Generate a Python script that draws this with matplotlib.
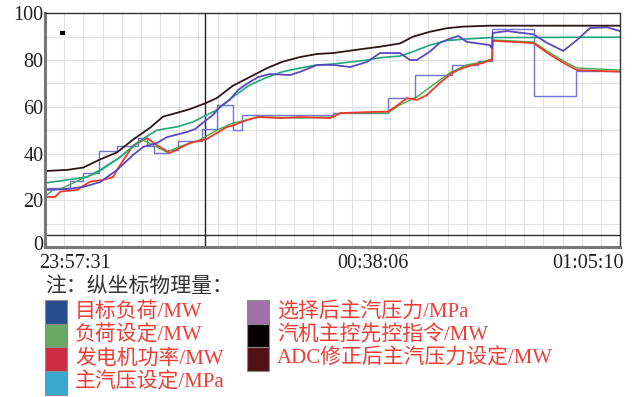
import matplotlib
matplotlib.use('Agg')
import matplotlib.pyplot as plt
import matplotlib.transforms as mtransforms
from matplotlib.patches import Rectangle

# 时间轴: 从曲线窗口左端起算的分钟数
tick_pos = [3.9, 42.8, 70.8]
tick_labels = ['23:57:31', '00:38:06', '01:05:10']

# 汽机主控先控指令
black_t = [0, 2.9, 5.0, 7.2, 9.4, 11.5, 13.7, 15.4, 17.2, 18.9, 20.9, 22.4, 24.5, 26.7,
           29.0, 31.0, 33.3, 35.5, 37.6, 42.0, 43.7, 46.3, 48.0, 50.2, 52.4, 54.5, 58.0, 75.0]
black_v = [32.5, 33, 34, 37.5, 40.5, 46, 51, 55.8, 57.4, 59, 61.5, 63.7, 69, 72.7,
           76.6, 79.3, 81.3, 82.6, 83, 85, 85.7, 87.1, 90, 92.1, 93.6, 94.3, 94.7, 94.7]

# 主汽压设定 (平滑曲线)
teal_t = [0, 2.9, 5.5, 7.2, 9.8, 12.4, 14.6, 17.2, 19.3, 21.1, 22.4, 24.5, 26.7, 29.0,
          31.0, 33.3, 35.5, 37.6, 42.0, 43.7, 46.3, 48.0, 50.2, 52.4, 54.5, 58.0, 75.0]
teal_v = [27.4, 28.7, 30, 33, 38.5, 45.5, 50, 51.4, 53.5, 56.5, 58.6, 64.2, 69.3, 72.7,
          75, 76.6, 77.9, 78.3, 80, 81, 81.7, 83.6, 86.4, 88.3, 88.9, 89.6, 89.8]

# 选择后主汽压力
purple_t = [0, 2.9, 5.0, 7.2, 9.4, 11.5, 12.8, 14.6, 15.9, 18.5, 19.6, 20.9, 21.9, 22.8,
            24.1, 25.2, 26.5, 27.8, 29.3, 32.0, 33.3, 35.5, 37.6, 39.8, 42.0, 43.7, 46.3,
            47.6, 48.5, 50.2, 51.5, 52.4, 53.9, 55.0, 56.7, 58.0, 58.3, 58.4, 60.3, 63.7,
            65.5, 67.6, 69.4, 71.1, 73.3, 75.0]
purple_v = [24.4, 24.8, 25.7, 27.8, 33, 39.4, 42.8, 44.5, 47, 49.2, 50.5, 54, 56.5, 59.9,
            63, 67.2, 70.2, 72.7, 74, 73.6, 75, 77.9, 77.9, 77, 79.2, 83, 83,
            80, 80, 83.6, 87.4, 88.6, 90.3, 87.8, 87, 86.4, 85, 91.6, 92.4, 91,
            87.3, 83.9, 88.6, 93.7, 94, 92.4]

# 目标负荷 (阶梯)
step_t = [0, 3.3, 5.0, 7.0, 9.4, 12.1, 13.3, 14.2, 16.0, 17.3, 20.5, 22.4, 24.5, 25.7,
          37.6, 44.7, 48.3, 53.1, 56.5, 58.3, 63.8, 69.3, 75.0]
step_v = [25.3, 28.2, 31.7, 41, 43.3, 46.5, 43.3, 40.2, 41.3, 45.5, 50.4, 60.8, 50, 56.3,
          57.3, 63.7, 73.6, 77.9, 79.6, 93.2, 64.6, 75.2, 75.2]

# 负荷设定
green_t = [0, 1.0, 2.3, 5.0, 6.8, 9.4, 11.5, 12.8, 14.6, 15.9, 17.6, 20.2, 22.4, 24.5,
           26.3, 28.0, 33.3, 37.6, 38.5, 44.7, 46.3, 48.5, 50.6, 52.8, 55.0, 57.1, 58.3,
           58.4, 63.7, 65.9, 68.1, 69.4, 75.0]
green_v = [21.5, 24.4, 25.2, 29.5, 31.7, 37.5, 43, 45.8, 42.8, 40.6, 43, 45.8, 50, 53,
           54.3, 55.6, 55.2, 55.6, 57.3, 57.3, 60.8, 64.2, 69.3, 74.5, 77.9, 79.2, 80.4,
           88.6, 87.7, 83, 78.7, 76.6, 75.7]

# 发电机功率
red_t = [0, 1.3, 2.0, 4.2, 4.8, 5.9, 7.6, 8.9, 9.4, 11.5, 13.3, 14.6, 16.3, 17.6, 18.9,
         21.1, 22.4, 23.7, 24.5, 26.3, 27.7, 30.7, 33.3, 37.2, 38.5, 43.7, 44.7, 45.7,
         47.2, 48.5, 49.8, 51.5, 53.1, 54.5, 55.8, 57.1, 58.0, 58.3, 58.4, 63.7, 65.9,
         68.1, 69.4, 75.0]
red_v = [21.4, 21.4, 23.7, 24.4, 25.8, 28, 28.7, 30, 33, 43.5, 46.6, 43.6, 40.2, 42.4, 44.5,
         46.2, 48.8, 51.3, 52, 54.3, 55.6, 55.2, 55.6, 55.2, 57.3, 57.9, 57.9, 60,
         63.7, 62.9, 65, 70.2, 74.5, 76.6, 77.9, 78.7, 80, 80, 88.2, 87.3, 82.2,
         77.9, 75.7, 75]

cursor_t = 20.9
base_level = 5

legend_names = ['目标负荷/MW', '负荷设定/MW', '发电机功率/MW', '主汽压设定/MPa',
                '选择后主汽压力/MPa', '汽机主控先控指令/MW', 'ADC修正后主汽压力设定/MW']
legend_colors = ['#264e8e', '#68a964', '#cc2b40', '#3aa9cf',
                 '#a070a6', '#060203', '#511414']

serif = ['Liberation Serif', 'Noto Sans CJK SC']

fig = plt.figure(figsize=(6.37, 3.97), dpi=100)
ax = fig.add_axes([45 / 637, 1 - 247 / 397, 575 / 637, 233.7 / 397])

ax.set_xlim(0, 75)
ax.set_ylim(0, 100)

# 网格
for g in [2.5 * i for i in range(1, 30)]:
    ax.axvline(g, color='#e2e2e2', lw=0.8, zorder=0)
for g in range(10, 100, 10):
    ax.axhline(g, color='#e2e2e2', lw=0.8, zorder=0)
ax.axhline(base_level, color='#333333', lw=1.0, zorder=1)
ax.axvline(cursor_t, color='#222222', lw=1.0, zorder=1)

ax.plot(step_t, step_v, drawstyle='steps-post', color='#7373d6', lw=1.0)
ax.plot(green_t, green_v, color='#3cae48', lw=1.0)
ax.plot(red_t, red_v, color='#f0392a', lw=1.3)
ax.plot(teal_t, teal_v, color='#1fa77c', lw=1.2)
ax.plot(purple_t, purple_v, color='#5948bf', lw=1.3)
ax.plot(black_t, black_v, color='#2b1616', lw=1.3)
ax.plot([1.9, 2.6], [91.6, 91.6], color='black', lw=3, solid_capstyle='butt')

for side in ['top', 'right']:
    ax.spines[side].set_color('#333333')
    ax.spines[side].set_linewidth(1.0)
for side in ['left', 'bottom']:
    ax.spines[side].set_color('#777777')
    ax.spines[side].set_linewidth(2.2)

ax.set_xticks(tick_pos)
ax.set_xticklabels(tick_labels)
ax.set_yticks(range(0, 101, 20))
ax.tick_params(length=0)
for lab in ax.get_xticklabels() + ax.get_yticklabels():
    lab.set_family(serif)
    lab.set_fontsize(14.5)
    lab.set_color('#222222')
ax.tick_params(axis='x', pad=5)
ax.tick_params(axis='y', pad=1)

# 纵轴 "0" 稍微上移, 避免压住时间标签
zero_lab = ax.get_yticklabels()[0]
zero_lab.set_transform(zero_lab.get_transform() +
                       mtransforms.ScaledTranslation(0, 3 / 72, fig.dpi_scale_trans))

# 图例说明
fig.text(45 / 637, 1 - 287 / 397, '注：纵坐标物理量：', family=serif, fontsize=15,
         color='#333333', va='center', ha='left')

rows = [312, 335.5, 359, 383]
for i, (name, col) in enumerate(zip(legend_names, legend_colors)):
    if i < 4:
        x0, yc, xt = 45, rows[i], 75
    else:
        x0, yc, xt = 247, rows[i - 4], 277
    fig.patches.append(Rectangle((x0 / 637, 1 - (yc + 12) / 397), 22 / 637, 24 / 397,
                                 transform=fig.transFigure, facecolor=col,
                                 edgecolor='#8a8a8a', lw=0.8))
    fig.text(xt / 637, 1 - yc / 397, name, family=serif, fontsize=15,
             color='#ef3d36', va='center', ha='left')

fig.savefig('out.png', dpi=100)
